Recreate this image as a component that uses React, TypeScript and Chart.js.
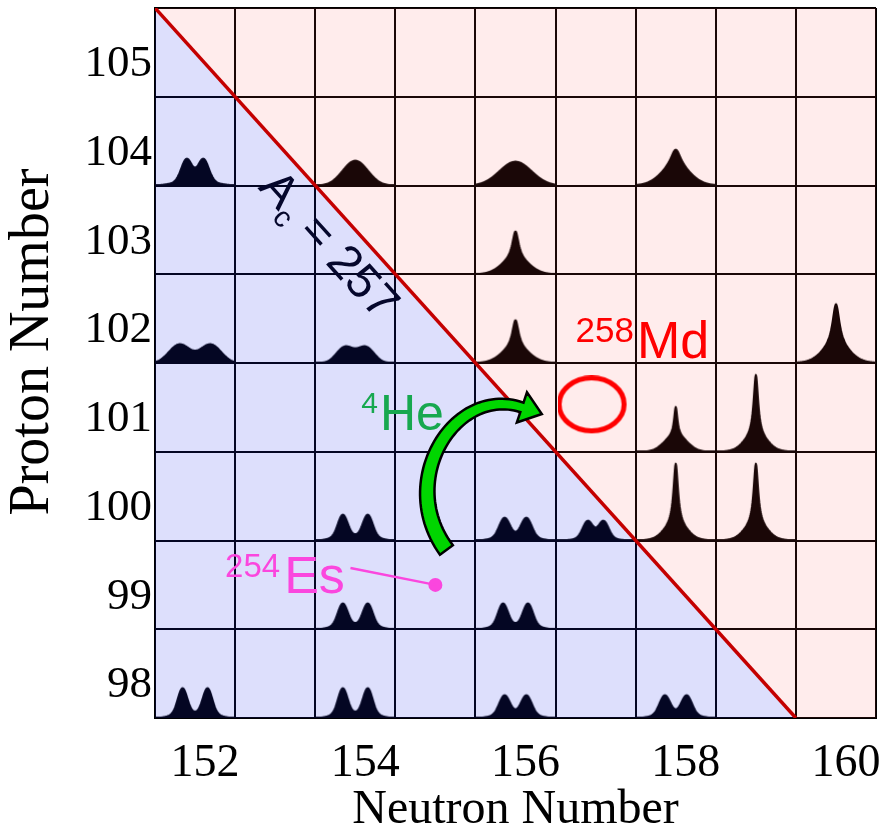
import React, { useEffect, useRef } from 'react';
import { Chart, registerables } from 'chart.js';

Chart.register(...registerables);

// ---------------- data ----------------
const cellEdgesN = [151.5, 152.5, 153.5, 154.5, 155.5, 156.5, 157.5, 158.5, 159.5, 160.5];
const cellEdgesZ = [97.5, 98.5, 99.5, 100.5, 101.5, 102.5, 103.5, 104.5, 105.5];
const neutronTicks = [152, 154, 156, 158, 160];
const protonTicks = [98, 99, 100, 101, 102, 103, 104, 105];

// compound-nucleus mass line A_c = N + Z = 257
const criticalMass = 257;
const massLineN = [151.5, 159.5];

// nuclei with measured fission mass distributions
const nucleusN = [152, 154, 156, 158, 156, 152, 154, 156, 160, 158, 159, 154, 156, 157, 158, 159, 154, 156, 152, 154, 156, 158];
const nucleusZ = [104, 104, 104, 104, 103, 102, 102, 102, 102, 101, 101, 100, 100, 100, 100, 100, 99, 99, 98, 98, 98, 98];
const yieldShape = [
  'twinSoft', 'gauss', 'gaussWide', 'cusp',
  'cuspMid',
  'twinWide', 'twinFlat', 'cuspMid', 'cuspTall',
  'shoulder', 'spike',
  'twin', 'twinSmall', 'twinSoftSmall', 'spike', 'spike',
  'twin', 'twin',
  'twinTall', 'twinTall', 'twinSmall', 'twinSmall',
];

// reaction: 254Es + 4He -> 258Md
const targetNucleus = [155, 99];
const productNucleus = [157, 101];

// ---------------- styles ----------------
const SERIF = "'Liberation Serif', 'Times New Roman', serif";
const SANS = "'Liberation Sans', Arial, sans-serif";

type Comp = [string, number, number, number];
const twinComps = (d: number, s: number): Comp[] => [
  ['g', -d, s, 0.8], ['g', d, s, 0.8], ['g', -d, s * 2.2, 0.2], ['g', d, s * 2.2, 0.2],
];
const GLYPHS: Record<string, { h: number; comps: Comp[] }> = {
  twinTall: { h: 30, comps: twinComps(12.5, 4.6) },
  twin: { h: 26, comps: twinComps(12.5, 4.8) },
  twinSmall: { h: 23, comps: twinComps(11, 5.1) },
  twinWide: { h: 19, comps: [['g', -15.5, 10.5, 1], ['g', 15.5, 10.5, 1]] },
  twinFlat: { h: 17, comps: [['g', -10.5, 8.2, 1], ['g', 10.5, 8.2, 1], ['g', 0, 16, 0.15]] },
  twinSoft: { h: 27, comps: [['g', -8.5, 5.2, 1], ['g', 8.5, 5.2, 1], ['g', 0, 16, 0.35]] },
  twinSoftSmall: { h: 20, comps: [['g', -8, 4.9, 1], ['g', 8, 4.9, 1], ['g', 0, 14, 0.32]] },
  gauss: { h: 25, comps: [['g', 0, 12.5, 1]] },
  gaussWide: { h: 24, comps: [['g', 0, 16, 1]] },
  cusp: { h: 36, comps: [['l', 0, 6, 0.5], ['g', 0, 14, 0.5]] },
  cuspMid: { h: 43, comps: [['l', 0, 3.8, 0.65], ['g', 0, 13, 0.35]] },
  cuspTall: { h: 59, comps: [['l', 0, 4.2, 0.72], ['g', 0, 13, 0.28]] },
  shoulder: { h: 45, comps: [['l', 0, 2, 0.64], ['g', 0, 11, 0.36]] },
  spike: { h: 77, comps: [['l', 0, 2.7, 0.8], ['g', 0, 11, 0.2]] },
};

function makeGlyph(def: { h: number; comps: Comp[] }) {
  const W = 80, H = 88;
  const c = document.createElement('canvas');
  c.width = W; c.height = H;
  const g = c.getContext('2d')!;
  const prof = (x: number) =>
    def.comps.reduce((s, [k, mu, w, a]) =>
      s + a * (k === 'g' ? Math.exp(-0.5 * ((x - mu) / w) ** 2) : 1 / (1 + ((x - mu) / w) ** 2)), 0);
  let max = 0;
  for (let x = -40; x <= 40; x += 0.25) max = Math.max(max, prof(x));
  g.beginPath();
  g.moveTo(0, H);
  for (let px = 0; px <= W; px += 0.5) {
    const v = Math.max(0, (prof(px - W / 2) / max) * def.h - 0.6);
    g.lineTo(px, H - v);
  }
  g.lineTo(W, H);
  g.closePath();
  g.fillStyle = '#000';
  g.fill();
  g.lineWidth = 2;
  g.lineJoin = 'round';
  g.strokeStyle = '#000';
  g.stroke();
  return c;
}

function makeRing() {
  const c = document.createElement('canvas');
  c.width = 76; c.height = 64;
  const g = c.getContext('2d')!;
  g.beginPath();
  g.ellipse(34, 29, 32.5, 26.5, 0, 0, Math.PI * 2);
  g.lineWidth = 5;
  g.strokeStyle = '#ff0000';
  g.stroke();
  return c;
}

const px = (chart: any, n: number, z: number) => [chart.scales.x.getPixelForValue(n), chart.scales.y.getPixelForValue(z)];

const annotationPlugin = {
  id: 'annotations',
  afterDatasetsDraw(chart: any) {
    const ctx = chart.ctx;
    ctx.save();
    ctx.textAlign = 'left';
    ctx.textBaseline = 'alphabetic';

    // A_c = 257 label, rotated along the line
    const [ax, ay] = px(chart, 152.775, 103.472);
    const ang = Math.atan2(
      chart.scales.y.getPixelForValue(criticalMass - massLineN[1]) - chart.scales.y.getPixelForValue(criticalMass - massLineN[0]),
      chart.scales.x.getPixelForValue(massLineN[1]) - chart.scales.x.getPixelForValue(massLineN[0]));
    ctx.save();
    ctx.translate(ax, ay);
    ctx.rotate(ang);
    ctx.fillStyle = '#05072c';
    ctx.font = `48px ${SANS}`;
    ctx.fillText('A', 0, 0);
    ctx.font = `29px ${SANS}`;
    ctx.fillText('c', 32, 10);
    ctx.font = `48px ${SANS}`;
    ctx.fillText(' = 257', 46, 0);
    ctx.restore();

    const isotope = (n: number, z: number, mass: string, sym: string, color: string, ms: number, ss: number, raise: number, gap: number) => {
      const [x, y] = px(chart, n, z);
      ctx.fillStyle = color;
      ctx.font = `${ms}px ${SANS}`;
      ctx.fillText(mass, x, y - raise);
      const w = ctx.measureText(mass).width;
      ctx.font = `${ss}px ${SANS}`;
      ctx.fillText(sym, x + w + gap, y);
    };
    isotope(154.075, 100.745, '4', 'He', '#17a84f', 30, 50, 17, 2);
    isotope(156.75, 101.556, '258', 'Md', '#ff0000', 35, 52, 16, 3);
    isotope(152.375, 98.908, '254', 'Es', '#fb46de', 33, 52, 16, 4);

    // leader line to 254Es
    const [l0x, l0y] = px(chart, 153.94, 99.19);
    const [l1x, l1y] = px(chart, targetNucleus[0], targetNucleus[1]);
    ctx.strokeStyle = '#fb46de';
    ctx.lineWidth = 2.5;
    ctx.beginPath();
    ctx.moveTo(l0x, l0y);
    ctx.lineTo(l1x, l1y);
    ctx.stroke();

    // curved alpha-capture arrow
    const P = [px(chart, 155.1375, 99.393), px(chart, 154.5, 100.182), px(chart, 155.25, 101.25), px(chart, 156.08, 101.0)];
    const bez = (t: number) => {
      const u = 1 - t;
      return [0, 1].map(k => u * u * u * P[0][k] + 3 * u * u * t * P[1][k] + 3 * u * t * t * P[2][k] + t * t * t * P[3][k]);
    };
    const der = (t: number) => {
      const u = 1 - t;
      return [0, 1].map(k => 3 * u * u * (P[1][k] - P[0][k]) + 6 * u * t * (P[2][k] - P[1][k]) + 3 * t * t * (P[3][k] - P[2][k]));
    };
    const L: number[][] = [], R: number[][] = [];
    const NS = 60, w0 = 16, w1 = 10;
    for (let i = 0; i <= NS; i++) {
      const t = i / NS;
      const p = bez(t), d = der(t);
      const len = Math.hypot(d[0], d[1]);
      const nx = -d[1] / len, ny = d[0] / len;
      const w = (w0 + (w1 - w0) * t) / 2;
      L.push([p[0] + nx * w, p[1] + ny * w]);
      R.push([p[0] - nx * w, p[1] - ny * w]);
    }
    const pe = bez(1), de = der(1);
    const dl = Math.hypot(de[0], de[1]);
    const dx = de[0] / dl, dy = de[1] / dl;
    const nx = -dy, ny = dx;
    const hh = 16, hl = 21;
    ctx.beginPath();
    L.forEach(([x, y], i) => (i ? ctx.lineTo(x, y) : ctx.moveTo(x, y)));
    ctx.lineTo(pe[0] + nx * hh, pe[1] + ny * hh);
    ctx.lineTo(pe[0] + dx * hl, pe[1] + dy * hl);
    ctx.lineTo(pe[0] - nx * hh, pe[1] - ny * hh);
    for (let i = R.length - 1; i >= 0; i--) ctx.lineTo(R[i][0], R[i][1]);
    ctx.closePath();
    ctx.fillStyle = '#00d600';
    ctx.fill();
    ctx.lineJoin = 'miter';
    ctx.lineWidth = 2.5;
    ctx.strokeStyle = '#000';
    ctx.stroke();

    ctx.restore();
  },
};

export default function App() {
  const ref = useRef<HTMLCanvasElement>(null);

  useEffect(() => {
    const canvas = ref.current!;
    const glyphs: Record<string, HTMLCanvasElement> = {};
    Object.keys(GLYPHS).forEach(k => (glyphs[k] = makeGlyph(GLYPHS[k])));
    const ring = makeRing();

    const lineData = massLineN.map(n => ({ x: n, y: criticalMass - n }));
    const heavyData = [...lineData, { x: cellEdgesN[cellEdgesN.length - 1], y: cellEdgesZ[0] }];
    const yieldData = nucleusN.map((n, i) => ({ x: n, y: nucleusZ[i] }));

    const gridColor = (edges: number[]) => (c: any) =>
      c.tick && edges.includes(c.tick.value) ? '#000' : 'rgba(0,0,0,0)';

    const chart = new Chart(canvas, {
      type: 'scatter',
      data: {
        datasets: [
          {
            type: 'scatter',
            label: 'reaction',
            data: [{ x: targetNucleus[0], y: targetNucleus[1] }, { x: productNucleus[0], y: productNucleus[1] }],
            pointStyle: ['circle', ring] as any,
            pointRadius: [7, 5],
            backgroundColor: '#fb46de',
            borderWidth: 0,
            order: 0,
          },
          {
            type: 'line',
            label: 'A_c = 257',
            data: lineData,
            borderColor: '#c40000',
            borderWidth: 3.5,
            pointRadius: 0,
            tension: 0,
            fill: 'start',
            backgroundColor: 'rgba(28,41,233,0.15)',
            order: 1,
          },
          {
            type: 'line',
            label: 'heavier',
            data: heavyData,
            borderColor: 'rgba(0,0,0,0)',
            borderWidth: 0,
            pointRadius: 0,
            tension: 0,
            fill: 'end',
            backgroundColor: 'rgba(255,65,65,0.1)',
            order: 2,
          },
          {
            type: 'scatter',
            label: 'mass distributions',
            data: yieldData,
            pointStyle: yieldShape.map(s => glyphs[s]) as any,
            pointRadius: 5,
            order: 3,
          },
        ],
      } as any,
      options: {
        animation: false,
        responsive: false,
        events: [],
        layout: { padding: { top: 8, right: 7, left: 0, bottom: 0 } },
        plugins: { legend: { display: false }, tooltip: { enabled: false } },
        scales: {
          x: {
            type: 'linear',
            min: cellEdgesN[0],
            max: cellEdgesN[cellEdgesN.length - 1],
            afterBuildTicks: (s: any) => {
              s.ticks = [...new Set([...cellEdgesN, ...neutronTicks])].sort((a, b) => a - b).map(v => ({ value: v }));
            },
            afterFit: (s: any) => { s.height = 116; s.paddingLeft = 0; s.paddingRight = 0; },
            grid: { color: gridColor(cellEdgesN), lineWidth: 2, drawTicks: false },
            border: { display: true, color: '#000', width: 2 },
            ticks: {
              autoSkip: false, maxRotation: 0, padding: 18, labelOffset: 10, color: '#000',
              font: { family: SERIF, size: 46 },
              callback: (v: any) => (neutronTicks.includes(v) ? String(v) : ''),
            },
            title: { display: true, text: 'Neutron Number', color: '#000', font: { family: SERIF, size: 48, lineHeight: 1 }, padding: 0 },
          },
          y: {
            type: 'linear',
            min: cellEdgesZ[0],
            max: cellEdgesZ[cellEdgesZ.length - 1],
            afterBuildTicks: (s: any) => {
              s.ticks = [...new Set([...cellEdgesZ, ...protonTicks])].sort((a, b) => a - b).map(v => ({ value: v }));
            },
            afterFit: (s: any) => { s.width = 155; s.paddingTop = 0; s.paddingBottom = 0; },
            grid: { color: gridColor(cellEdgesZ), lineWidth: 2, drawTicks: false },
            border: { display: true, color: '#000', width: 2 },
            ticks: {
              autoSkip: false, padding: 3, labelOffset: 12, color: '#000',
              font: { family: SERIF, size: 45 },
              callback: (v: any) => (protonTicks.includes(v) ? String(v) : ''),
            },
            title: { display: true, text: '   Proton Number', color: '#000', font: { family: SERIF, size: 56, lineHeight: 1.2 }, padding: 0 },
          },
        },
      } as any,
      plugins: [annotationPlugin],
    });
    return () => chart.destroy();
  }, []);

  return (
    <div style={{ position: 'absolute', left: 0, top: 0, width: 883, height: 834, background: '#fff' }}>
      <canvas ref={ref} width={883} height={834} style={{ display: 'block' }} />
    </div>
  );
}
